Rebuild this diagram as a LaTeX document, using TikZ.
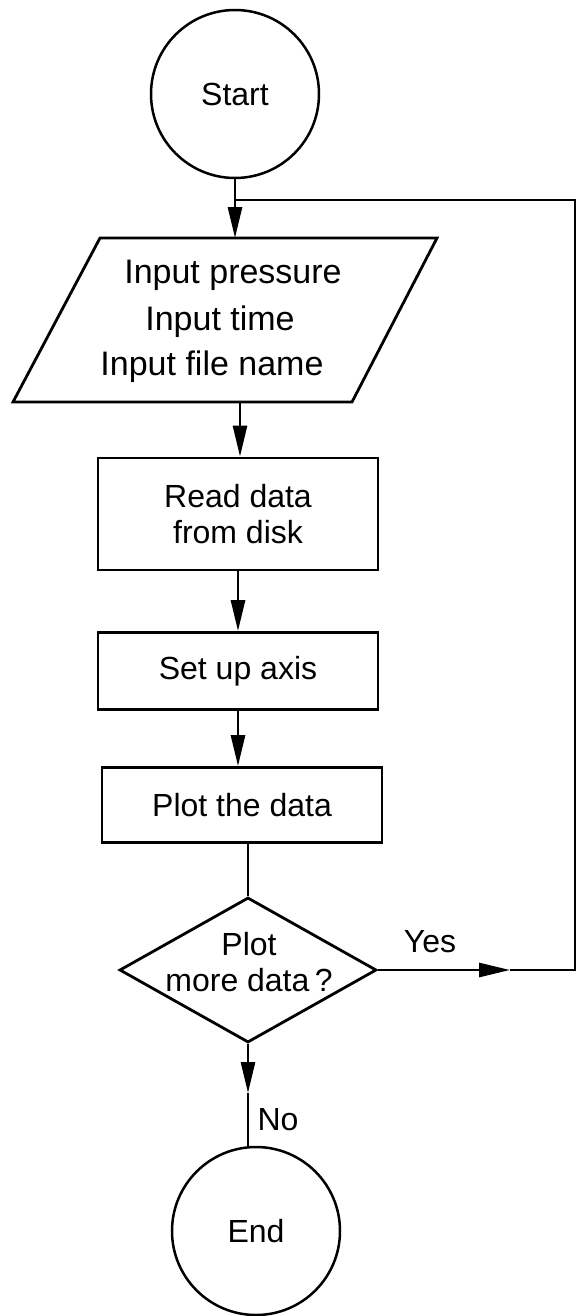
\documentclass[tikz,border=0pt]{standalone}
\usepackage{fontspec}
\setmainfont{Liberation Sans}
\usetikzlibrary{arrows.meta,shapes.geometric}
\begin{document}
\begin{tikzpicture}[x=1pt,y=-1pt,
  line width=2.8pt,
  txt/.style={font=\fontsize{32}{36}\selectfont, align=center, inner sep=0pt},
  bigtxt/.style={font=\fontsize{34}{44}\selectfont, inner sep=0pt, anchor=base},
  proc/.style={draw, rectangle, minimum width=280pt, inner sep=0pt, txt},
  term/.style={draw, circle, line width=2.5pt, minimum size=168pt, inner sep=0pt, txt},
  decision/.style={draw, diamond, minimum width=257pt, minimum height=145pt, inner sep=0pt},
  arr/.style={-{Triangle[length=31pt,width=14pt]}},
]
\useasboundingbox (0,0) rectangle (578,1316);

% nodes
\node[term] (start) at (235,94) {Start};

\coordinate (pA) at (100,238);
\coordinate (pB) at (437,238);
\coordinate (pC) at (352,402);
\coordinate (pD) at (13,402);
\draw (pA) -- (pB) -- (pC) -- (pD) -- cycle;
\node[bigtxt] (inp1) at (233,283) {Input pressure};
\node[bigtxt] (inp2) at (220,330) {Input time};
\node[bigtxt] (inp3) at (212,375) {Input file name};

\node[proc, minimum height=112pt] (read) at (238,514) {Read data\\from disk};
\node[proc, minimum height=77pt] (setup) at (238,671) {Set up axis};
\node[proc, minimum height=75pt] (plot) at (242,805) {Plot the data};

\node[decision] (dec) at (248,970) {};
\node[txt] (dq) at (249,962) {Plot\\more data\,?};

\node[term] (end) at (256,1231) {End};

\node[txt, anchor=base] (yes) at (430,952) {Yes};
\node[txt, anchor=base] (no) at (278,1130) {No};

% helper coordinates
\coordinate (junc) at (235,200);
\coordinate (inpT) at (235,238);
\coordinate (inpB) at (240,402);
\coordinate (yt) at (510,0);
\coordinate (rc) at (575,0);
\coordinate (nt) at (0,1093);

% connectors
\draw[arr] (start.south) -- (inpT);
\draw[arr] (inpB) -- (inpB |- read.north);
\draw[arr] (read.south) -- (read.south |- setup.north);
\draw[arr] (setup.south) -- (setup.south |- plot.north);
\draw (plot.south -| dec.north) -- (dec.north);
\draw[arr] (dec.east) -- (dec.east -| yt);
\draw (dec.east -| yt) -- (dec.east -| rc) -- (rc |- junc) -- (junc);
\draw[arr] (dec.south) -- (dec.south |- nt);
\draw (dec.south |- nt) -- (dec.south |- end.north);
\end{tikzpicture}
\end{document}
